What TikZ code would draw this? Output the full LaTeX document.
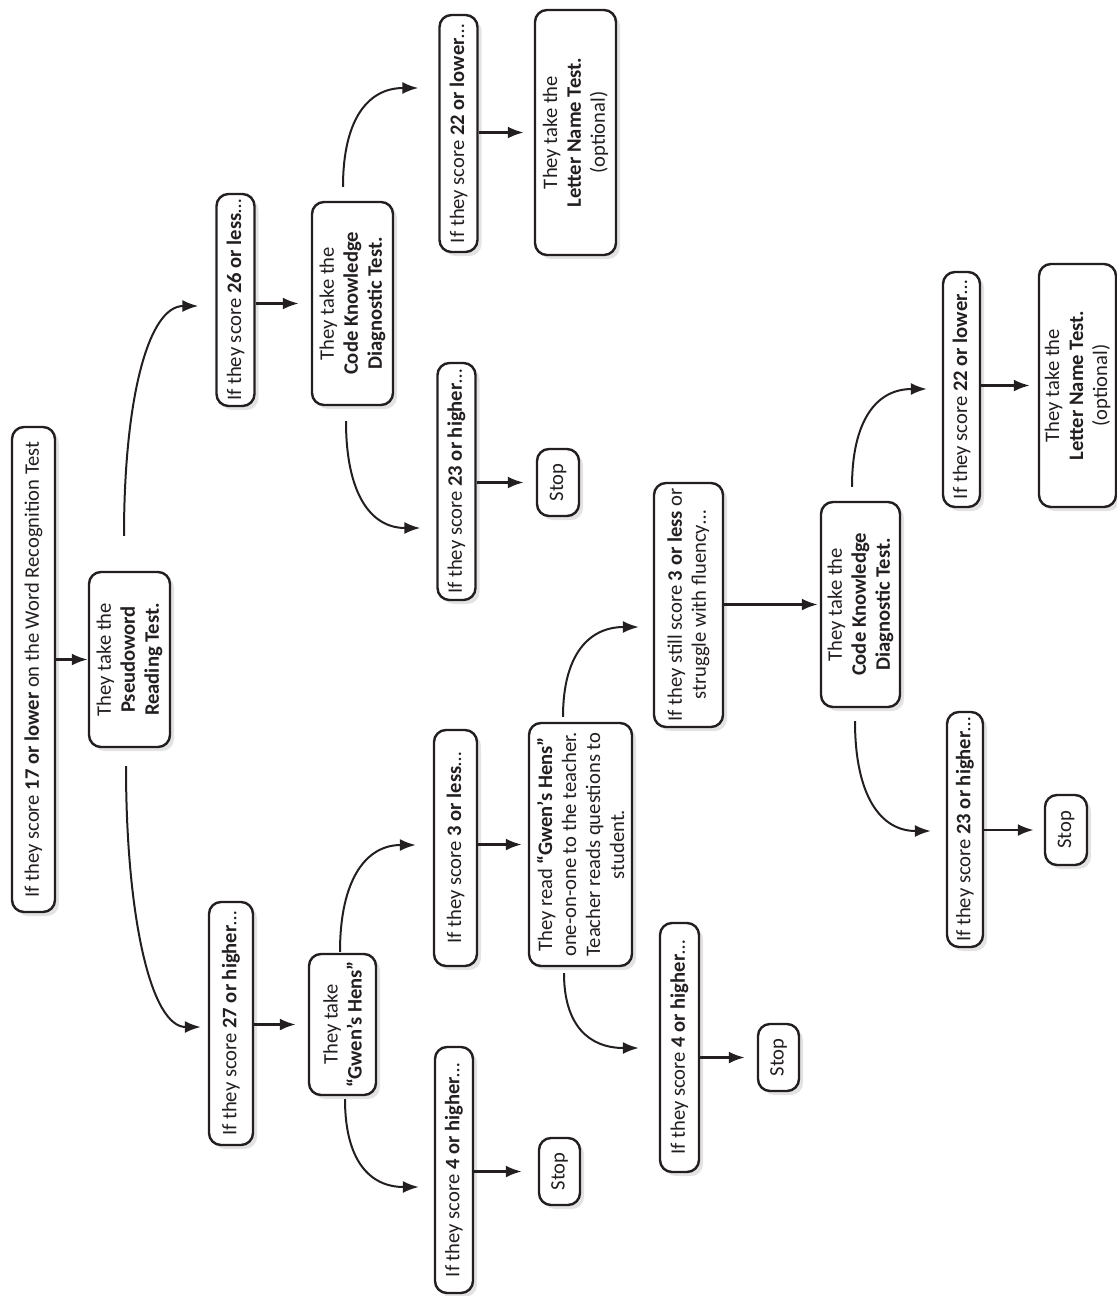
\documentclass[tikz,border=0pt]{standalone}
\usepackage{fontspec}
\setmainfont{Carlito}
\usetikzlibrary{calc,arrows.meta,shadows}
\definecolor{ink}{HTML}{231F20}
\begin{document}
\begin{tikzpicture}[x=0.5pt,y=-0.5pt,
  box/.style={draw=ink, line width=1.2pt, rounded corners=6pt, fill=white, rotate=90,
    align=center, inner sep=0pt, text=ink, font=\fontsize{10.3pt}{12pt}\selectfont,
    drop shadow={opacity=0.22, shadow xshift=2pt, shadow yshift=-2pt}},
  sz/.style 2 args={minimum width=#1*0.5pt, minimum height=#2*0.5pt},
  arr/.style={draw=ink, line width=1.3pt, -{Latex[length=8pt,width=6pt]}},
  conn/.style={draw=ink, line width=1pt, -{Latex[length=8pt,width=6pt]}}]
\useasboundingbox (0,0) rectangle (1117,1296);

\node[box, sz={485}{43}] (start) at (33.5,669.5) {If they score \textbf{17 or lower} on the Word Recognition Test};
\node[box, sz={175}{81}] (pseudo) at (129.5,659.5) {They take the\\\textbf{Pseudoword}\\\textbf{Reading Test.}};
\node[box, sz={212}{38}] (n26) at (235.5,300) {If they score \textbf{26 or less}…};
\node[box, sz={203}{81}] (ck1) at (352.5,303.5) {They take the\\\textbf{Code Knowledge}\\\textbf{Diagnostic Test.}};
\node[box, sz={237}{38}] (n22a) at (458.5,133.5) {If they score \textbf{22 or lower}…};
\node[box, sz={245}{81}] (ln1) at (575.5,132.5) {They take the\\\textbf{Letter Name Test.}\\(optional)};
\node[box, sz={237}{38}] (n23a) at (456.5,481.5) {If they score \textbf{23 or higher}…};
\node[box, sz={67}{42}] (stop1) at (558,482.5) {Stop};
\node[box, sz={243}{44}] (n27) at (231,1023.5) {If they score \textbf{27 or higher}…};
\node[box, sz={141}{67}] (gwen) at (342.5,1024.5) {They take\\\textbf{“Gwen’s Hens”}};
\node[box, sz={236}{43}] (n3) at (455.5,848) {If they score \textbf{3 or less}…};
\node[box, sz={246}{38}] (n4a) at (454,1170) {If they score \textbf{4 or higher}…};
\node[box, sz={67}{41}] (stop2) at (559.5,1171.5) {Stop};
\node[box, sz={243}{103}] (read) at (580.5,844.5) {They read \textbf{“Gwen’s Hens”}\\one-on-one to the teacher.\\Teacher reads questions to\\student.};
\node[box, sz={244}{69}] (still) at (688.5,605) {If they still score \textbf{3 or less} or\\struggle with fluency…};
\node[box, sz={249}{39}] (n4b) at (679.5,1047.5) {If they score \textbf{4 or higher}…};
\node[box, sz={67}{41}] (stop3) at (778.5,1057.5) {Stop};
\node[box, sz={205}{79}] (ck2) at (860.5,604.5) {They take the\\\textbf{Code Knowledge}\\\textbf{Diagnostic Test.}};
\node[box, sz={235}{37}] (n22b) at (961.5,389.5) {If they score \textbf{22 or lower}…};
\node[box, sz={243}{77}] (ln2) at (1077.5,385.5) {They take the\\\textbf{Letter Name Test.}\\(optional)};
\node[box, sz={235}{36}] (n23b) at (965,829.5) {If they score \textbf{23 or higher}…};
\node[box, sz={70}{42}] (stop4) at (1066,830) {Stop};

% straight arrows
\draw[arr] (start.south |- pseudo.north) -- (pseudo.north);
\draw[arr, shorten >=6pt] (n26.south |- ck1.north) -- (ck1.north);
\draw[arr, shorten >=5pt] (n22a.south |- ln1.north) -- (ln1.north);
\draw[arr, shorten >=6pt] (n23a.south |- stop1.north) -- (stop1.north);
\draw[arr, shorten >=6pt] (n27.south |- gwen.north) -- (gwen.north);
\draw[arr, shorten >=3pt] (n3.south |- read.north) -- (read.north);
\draw[arr, shorten >=8pt] (n4a.south |- stop2.north) -- (stop2.north);
\draw[arr, shorten >=1pt] (still.south |- ck2.north) -- (ck2.north);
\draw[arr, shorten >=6pt] (n4b.south |- stop3.north) -- (stop3.north);
\draw[arr, shorten >=5pt] (n23b.south |- stop4.north) -- (stop4.north);
\draw[arr, shorten >=4pt] (n22b.south |- ln2.north) -- (ln2.north);

% curved branches
\draw[conn] ($(pseudo.east)+(-5.5,-35)$) .. controls +(0,-137) and +(-50,0) .. ($(n26.north)+(-17,6)$);
\draw[conn] ($(pseudo.west)+(-3.5,18)$) .. controls +(0,150) and +(-50,0) .. ($(n27.north)+(-7,3.5)$);
\draw[conn] ($(ck1.east)+(-9.5,-14)$) .. controls +(0,-68) and +(-50,0) .. ($(n22a.north)+(-20,-45.5)$);
\draw[conn] ($(ck1.west)+(-6.5,15)$) .. controls +(0,72) and +(-50,0) .. ($(n23a.north)+(-16,46.5)$);
\draw[conn] ($(gwen.east)+(-2.5,-1)$) .. controls +(0,-72) and +(-50,0) .. ($(n3.north)+(-17,-3)$);
\draw[conn] ($(gwen.west)+(2.5,3)$) .. controls +(0,60) and +(-50,0) .. ($(n4a.north)+(-15,17)$);
\draw[conn] ($(read.east)+(-17.5,-5)$) .. controls +(0,-62) and +(-50,0) .. ($(still.north)+(-14,22)$);
\draw[conn] ($(read.west)+(-16.5,6)$) .. controls +(0,52) and +(-50,0) .. ($(n4b.north)+(-20,0.5)$);
\draw[conn] ($(ck2.east)+(-8.5,-14)$) .. controls +(0,-67) and +(-50,0) .. ($(n22b.north)+(-15,-0.5)$);
\draw[conn] ($(ck2.west)+(-5.5,13)$) .. controls +(0,75) and +(-50,0) .. ($(n23b.north)+(-15,1.5)$);
\end{tikzpicture}
\end{document}
